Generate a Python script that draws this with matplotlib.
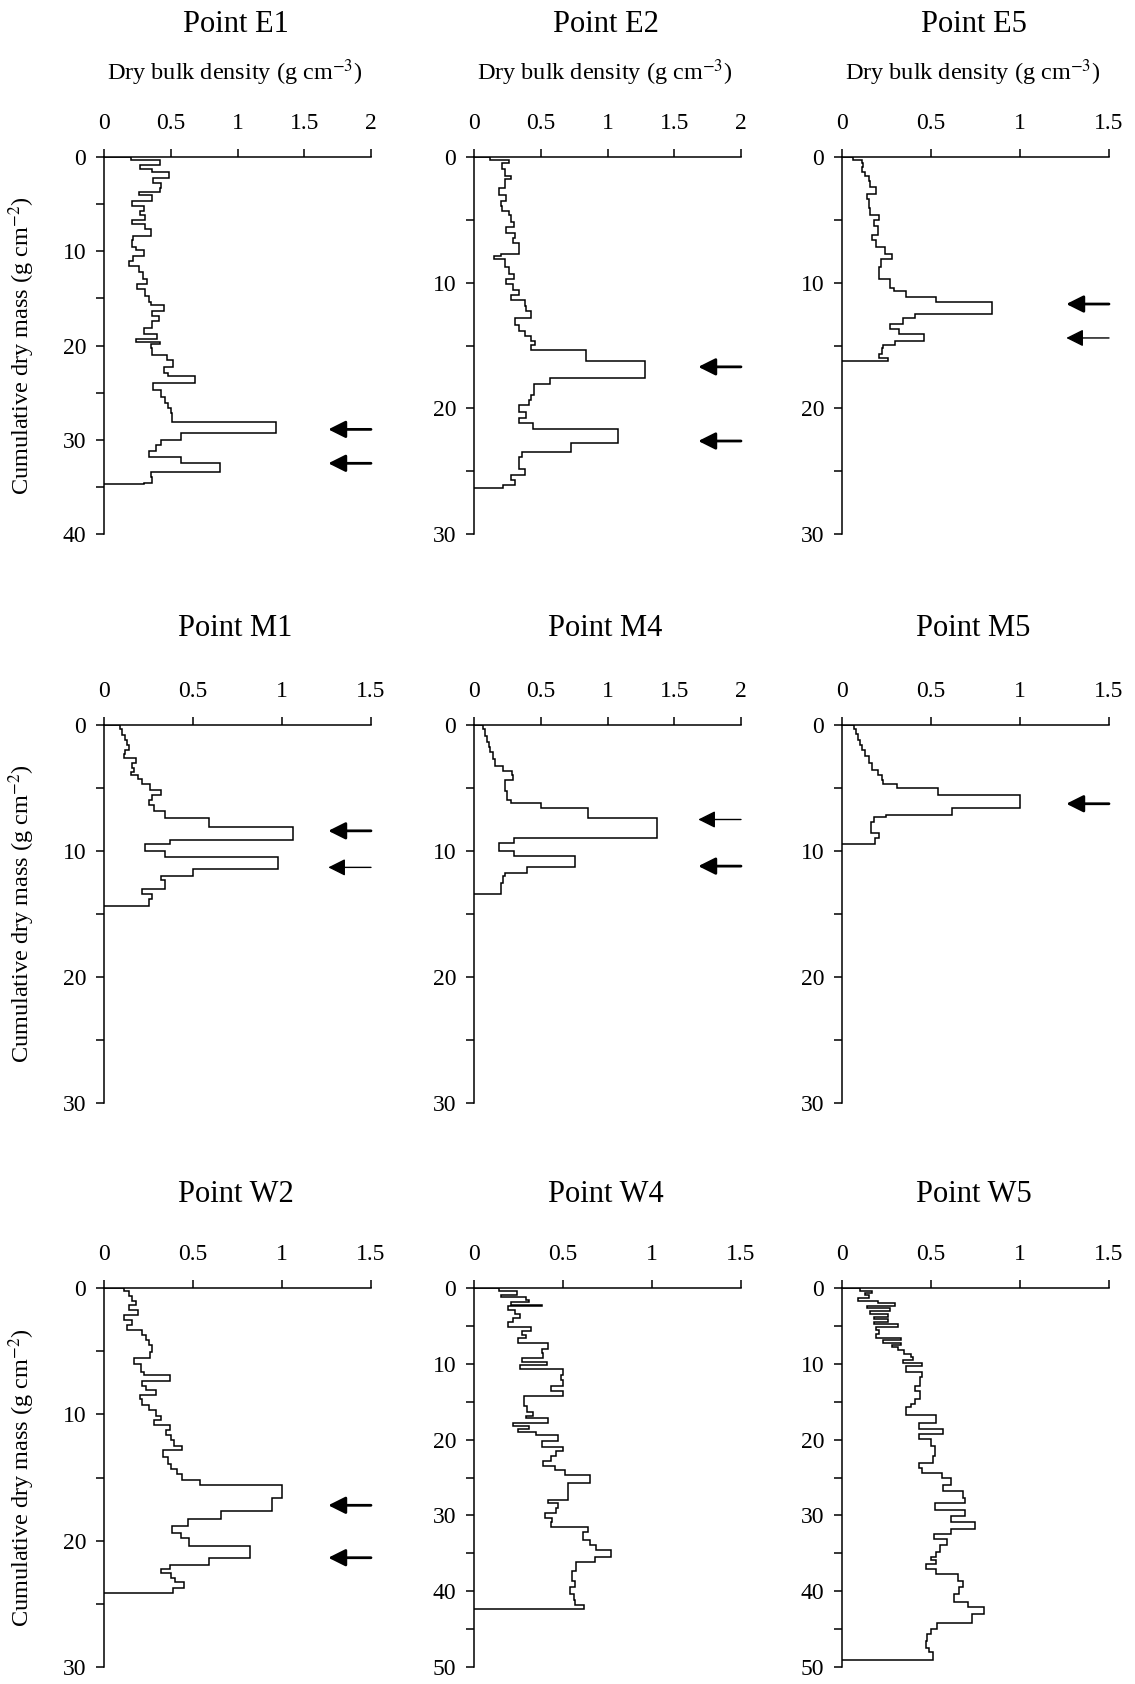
import matplotlib
matplotlib.use("Agg")
import matplotlib.pyplot as plt
from matplotlib.ticker import MultipleLocator, FuncFormatter

plt.rcParams["font.family"] = ["Liberation Serif", "DejaVu Serif"]
plt.rcParams["mathtext.fontset"] = "stix"

# ---- data: each profile = layer bottoms (cumulative dry mass, g cm-2) + dry bulk density (g cm-3)
E1_bottom = [0.30, 0.87, 1.24, 1.62, 2.18, 2.75, 3.31, 3.69, 4.06, 4.63, 5.19, 5.76, 6.13, 6.70, 7.07,
             7.64, 8.39, 8.77, 9.52, 9.90, 10.46, 11.03, 11.59, 12.15, 12.91, 13.47, 14.04, 14.79, 15.35,
             15.73, 16.29, 16.86, 17.42, 18.17, 18.74, 19.30, 19.61, 19.87, 20.24, 21.00, 21.56, 22.31,
             22.88, 23.26, 24.01, 24.76, 25.51, 26.08, 26.64, 27.21, 28.15, 29.28, 30.03, 30.59, 31.16,
             31.83, 32.47, 33.41, 33.98, 34.54, 34.73]
E1_density = [0.20, 0.42, 0.27, 0.36, 0.49, 0.37, 0.43, 0.42, 0.26, 0.36, 0.21, 0.30, 0.27, 0.31, 0.21,
              0.31, 0.35, 0.22, 0.21, 0.24, 0.30, 0.22, 0.19, 0.26, 0.29, 0.32, 0.25, 0.31, 0.34, 0.35,
              0.45, 0.36, 0.41, 0.36, 0.30, 0.40, 0.24, 0.42, 0.35, 0.36, 0.47, 0.52, 0.45, 0.48, 0.68,
              0.37, 0.43, 0.46, 0.48, 0.50, 0.51, 1.29, 0.58, 0.43, 0.39, 0.34, 0.58, 0.87, 0.35, 0.36,
              0.30]

E2_bottom = [0.23, 0.51, 0.93, 1.50, 1.78, 2.49, 3.06, 3.48, 3.91, 4.33, 4.61, 5.18, 5.60, 6.03, 6.45,
             6.88, 7.73, 7.87, 8.15, 8.72, 9.28, 9.71, 10.13, 10.56, 10.98, 11.41, 11.83, 12.26, 12.82,
             13.39, 13.81, 14.24, 14.66, 14.94, 15.37, 16.27, 17.58, 18.06, 18.91, 19.33, 19.76, 20.32,
             20.75, 21.17, 21.65, 22.73, 23.44, 23.86, 24.85, 25.28, 25.70, 26.07, 26.35]
E2_density = [0.12, 0.26, 0.21, 0.23, 0.28, 0.23, 0.19, 0.24, 0.20, 0.21, 0.26, 0.28, 0.30, 0.24, 0.31,
              0.29, 0.34, 0.20, 0.15, 0.23, 0.26, 0.30, 0.24, 0.29, 0.34, 0.28, 0.38, 0.39, 0.43, 0.31,
              0.34, 0.38, 0.43, 0.46, 0.43, 0.84, 1.28, 0.57, 0.45, 0.43, 0.41, 0.34, 0.39, 0.34, 0.44,
              1.075, 0.725, 0.36, 0.34, 0.38, 0.28, 0.31, 0.22]

E5_bottom = [0.23, 0.51, 0.79, 1.22, 1.50, 1.92, 2.35, 2.92, 3.34, 4.05, 4.61, 5.04, 5.46, 6.17, 6.60,
             7.16, 7.73, 8.15, 8.72, 9.71, 10.42, 10.70, 11.12, 11.55, 12.48, 12.82, 13.25, 13.67, 14.10,
             14.66, 14.94, 15.23, 15.65, 15.99, 16.27]
E5_density = [0.06, 0.11, 0.12, 0.11, 0.13, 0.15, 0.16, 0.19, 0.14, 0.15, 0.16, 0.21, 0.18, 0.20, 0.17,
              0.19, 0.24, 0.28, 0.22, 0.21, 0.27, 0.29, 0.36, 0.53, 0.84, 0.41, 0.34, 0.27, 0.32, 0.46,
              0.30, 0.23, 0.225, 0.21, 0.26]

M1_bottom = [0.34, 0.76, 1.18, 1.60, 2.02, 2.31, 2.59, 3.01, 3.43, 3.71, 3.99, 4.27, 4.69, 5.12, 5.54,
             5.96, 6.38, 6.80, 7.37, 8.07, 9.14, 9.47, 10.03, 10.46, 11.44, 11.95, 12.29, 12.99, 13.41,
             13.83, 14.39]
M1_density = [0.09, 0.10, 0.12, 0.13, 0.14, 0.12, 0.11, 0.18, 0.16, 0.17, 0.15, 0.19, 0.215, 0.26, 0.32,
              0.27, 0.25, 0.28, 0.34, 0.59, 1.06, 0.37, 0.23, 0.34, 0.98, 0.50, 0.32, 0.34, 0.215, 0.27,
              0.25]

M4_bottom = [0.34, 0.90, 1.32, 1.74, 2.16, 2.71, 3.27, 3.69, 3.97, 4.39, 5.23, 5.93, 6.21, 6.58, 7.42,
             8.93, 9.38, 9.99, 10.41, 11.25, 11.73, 11.95, 12.51, 13.41]
M4_density = [0.07, 0.08, 0.10, 0.11, 0.12, 0.14, 0.16, 0.22, 0.285, 0.29, 0.23, 0.25, 0.28, 0.50, 0.855,
              1.37, 0.30, 0.19, 0.30, 0.755, 0.40, 0.235, 0.215, 0.20]

M5_bottom = [0.33, 0.75, 1.17, 1.59, 2.01, 2.43, 2.99, 3.54, 3.96, 4.38, 4.72, 5.02, 5.55, 6.61, 7.12,
             7.31, 7.73, 8.57, 8.99, 9.46]
M5_density = [0.065, 0.08, 0.09, 0.10, 0.115, 0.13, 0.15, 0.17, 0.20, 0.225, 0.23, 0.31, 0.54, 1.00, 0.62,
              0.25, 0.18, 0.165, 0.21, 0.185]

W2_bottom = [0.27, 0.66, 1.06, 1.33, 1.72, 2.12, 2.52, 2.92, 3.32, 3.71, 4.11, 4.51, 5.04, 5.57, 6.05,
             6.63, 6.90, 7.37, 7.75, 8.09, 8.44, 8.81, 9.28, 9.68, 10.13, 10.48, 10.88, 11.27, 11.67,
             12.07, 12.47, 12.86, 13.40, 13.93, 14.32, 14.72, 15.17, 15.60, 16.66, 17.64, 18.25, 18.83,
             19.36, 19.76, 20.42, 21.35, 21.94, 22.28, 22.55, 22.94, 23.29, 23.74, 24.14]
W2_density = [0.11, 0.14, 0.16, 0.18, 0.14, 0.19, 0.11, 0.16, 0.13, 0.215, 0.235, 0.25, 0.27, 0.26, 0.17,
              0.21, 0.225, 0.37, 0.215, 0.235, 0.29, 0.20, 0.215, 0.25, 0.29, 0.32, 0.28, 0.37, 0.35,
              0.375, 0.395, 0.44, 0.33, 0.36, 0.375, 0.41, 0.44, 0.54, 1.00, 0.945, 0.66, 0.47, 0.38,
              0.43, 0.48, 0.82, 0.59, 0.37, 0.32, 0.375, 0.40, 0.45, 0.385]

W4_bottom = [0.44, 0.89, 1.24, 1.55, 1.86, 2.22, 2.44, 2.88, 3.46, 3.90, 4.44, 5.10, 5.68, 6.21, 6.65,
             7.32, 7.99, 8.52, 9.18, 9.76, 10.20, 10.74, 11.45, 12.20, 12.87, 13.53, 14.20, 15.53, 16.33,
             16.86, 17.21, 17.75, 18.19, 18.54, 18.99, 19.43, 20.19, 20.94, 21.52, 22.18, 22.85, 23.51,
             24.05, 24.62, 25.73, 27.95, 28.39, 29.06, 29.64, 30.39, 30.83, 31.50, 32.17, 33.27, 33.94,
             34.61, 35.49, 36.16, 37.27, 38.60, 39.49, 40.37, 41.17, 41.84, 42.37]
W4_density = [0.14, 0.24, 0.15, 0.29, 0.31, 0.21, 0.38, 0.19, 0.23, 0.26, 0.22, 0.19, 0.32, 0.27, 0.29,
              0.245, 0.415, 0.38, 0.39, 0.27, 0.41, 0.26, 0.50, 0.49, 0.50, 0.43, 0.50, 0.28, 0.30, 0.33,
              0.29, 0.415, 0.22, 0.31, 0.245, 0.35, 0.47, 0.38, 0.50, 0.46, 0.43, 0.39, 0.455, 0.51, 0.65,
              0.53, 0.415, 0.47, 0.46, 0.40, 0.44, 0.43, 0.64, 0.61, 0.65, 0.685, 0.77, 0.68, 0.575, 0.55,
              0.565, 0.54, 0.56, 0.565, 0.62]

W5_bottom = [0.35, 0.67, 0.98, 1.33, 1.69, 2.00, 2.31, 2.66, 3.02, 3.37, 3.77, 4.08, 4.44, 4.79, 5.15,
             5.55, 6.12, 6.57, 6.92, 7.19, 7.54, 7.81, 8.21, 8.65, 9.09, 9.54, 9.85, 10.29, 11.09, 11.76,
             12.87, 13.53, 14.64, 15.31, 15.75, 16.77, 17.75, 18.63, 19.30, 19.88, 20.85, 22.18, 23.07,
             23.74, 24.40, 25.07, 25.95, 26.84, 27.73, 28.39, 29.28, 30.08, 30.83, 31.85, 32.39, 33.05,
             33.94, 34.83, 35.49, 35.94, 36.38, 37.04, 37.71, 38.60, 39.40, 40.37, 41.48, 42.15, 43.03,
             44.14, 45.03, 45.70, 46.58, 47.47, 48.00, 49.02]
W5_density = [0.10, 0.17, 0.13, 0.15, 0.09, 0.20, 0.30, 0.14, 0.27, 0.16, 0.26, 0.18, 0.26, 0.18, 0.315,
              0.19, 0.21, 0.19, 0.33, 0.23, 0.33, 0.28, 0.315, 0.35, 0.385, 0.40, 0.34, 0.45, 0.36, 0.45,
              0.44, 0.41, 0.44, 0.41, 0.385, 0.36, 0.53, 0.43, 0.57, 0.43, 0.50, 0.525, 0.51, 0.43, 0.45,
              0.56, 0.61, 0.57, 0.68, 0.69, 0.525, 0.69, 0.615, 0.745, 0.61, 0.515, 0.59, 0.55, 0.53,
              0.50, 0.53, 0.47, 0.53, 0.65, 0.68, 0.66, 0.63, 0.71, 0.80, 0.73, 0.535, 0.50, 0.48, 0.47,
              0.49, 0.51]

points = ["E1", "E2", "E5", "M1", "M4", "M5", "W2", "W4", "W5"]
bottoms = [E1_bottom, E2_bottom, E5_bottom, M1_bottom, M4_bottom, M5_bottom, W2_bottom, W4_bottom, W5_bottom]
densities = [E1_density, E2_density, E5_density, M1_density, M4_density, M5_density,
             W2_density, W4_density, W5_density]
x_max = [2, 2, 1.5, 1.5, 2, 1.5, 1.5, 1.5, 1.5]
y_max = [40, 30, 30, 30, 30, 30, 30, 50, 50]

# depth of the layers marked with arrows
arrow_depth = [[28.9, 32.5], [16.7, 22.6], [11.7, 14.4], [8.4, 11.3], [7.5, 11.2], [6.25],
               [17.2, 21.35], [], []]
thin_arrows = {(2, 1), (3, 1), (4, 0)}

# ---- layout (pixels in a 1135 x 1684 figure)
W, H = 1135, 1684
row_top = [157, 725, 1288]
row_bottom = [534, 1103, 1667]
col_left = [104, 474, 842]
ax_w = 267
title_y = [24, 628, 1195]

fig = plt.figure(figsize=(W / 100, H / 100), dpi=100)

for i, name in enumerate(points):
    r, c = divmod(i, 3)
    ax = fig.add_axes([col_left[c] / W, 1 - row_bottom[r] / H, ax_w / W,
                       (row_bottom[r] - row_top[r]) / H])
    edges = [0] + bottoms[i]
    ax.stairs(densities[i], edges, orientation="horizontal", baseline=0,
              color="black", lw=1.1)
    ax.set_xlim(0, x_max[i])
    ax.set_ylim(y_max[i], 0)

    ax.xaxis.tick_top()
    ax.xaxis.set_major_locator(MultipleLocator(0.5))
    ax.xaxis.set_major_formatter(FuncFormatter(lambda v, p: f"{v:g}"))
    ax.yaxis.set_major_locator(MultipleLocator(10))
    ax.yaxis.set_minor_locator(MultipleLocator(5))
    ax.tick_params(which="both", direction="out", length=5.8, width=1.1, labelsize=17)
    ax.tick_params(axis="x", pad=11)
    ax.tick_params(axis="y", pad=7)
    for s in ["right", "bottom"]:
        ax.spines[s].set_visible(False)
    for s in ["left", "top"]:
        ax.spines[s].set_linewidth(1.1)

    for k, d in enumerate(arrow_depth[i]):
        lw = 1.0 if (i, k) in thin_arrows else 2.0
        ax.annotate("", xy=(0.84, d), xytext=(1.0, d),
                    xycoords=("axes fraction", "data"), textcoords=("axes fraction", "data"),
                    arrowprops=dict(arrowstyle="-|>", mutation_scale=26, lw=lw,
                                    color="black", shrinkA=0, shrinkB=0),
                    annotation_clip=False)

    cx = (col_left[c] + ax_w / 2) / W
    fig.text(cx - 2 / W, 1 - title_y[r] / H, f"Point {name}", ha="center", va="center",
             fontsize=22)
    if r == 0:
        fig.text(cx - 3 / W, 1 - 73 / H, "Dry bulk density (g cm$^{-3}$)", ha="center",
                 va="center", fontsize=17.5)
    if c == 0:
        cy = 1 - (row_top[r] + row_bottom[r]) / 2 / H
        fig.text(22 / W, cy, "Cumulative dry mass (g cm$^{-2}$)", rotation=90,
                 ha="center", va="center", fontsize=17.5)

fig.savefig("out.png", dpi=100)
